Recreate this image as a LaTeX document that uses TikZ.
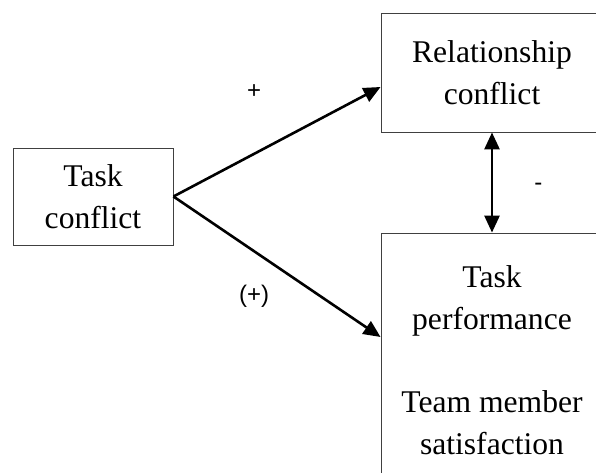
\documentclass[tikz,border=0pt]{standalone}
\usepackage{fontspec}
\setmainfont{Liberation Serif}
\setsansfont{Liberation Sans}
\usetikzlibrary{arrows.meta,positioning}

\begin{document}
\begin{tikzpicture}[x=1pt,y=-1pt,>={Triangle[length=17pt,width=15pt]}]
    \tikzstyle{b}=[rectangle,draw=black!75,line width=0.9pt,align=center,inner sep=0pt,font=\fontsize{31.6}{42}\selectfont]
    \tikzstyle{lbl}=[inner sep=0pt,font=\sffamily\fontsize{24}{28}\selectfont]
    \useasboundingbox (0,0) rectangle (596,473);
    \clip (0,0) rectangle (596,473);
    \node[b,minimum width=160pt,minimum height=97pt] (task) at (93,196.5) {Task\\conflict};
    \node[b,minimum width=222pt,minimum height=119pt] (rel) at (492,72.5) {Relationship\\conflict};
    \node[b,minimum width=222pt,minimum height=254pt] (perf) at (492,360) {Task\\performance\\[41pt]Team member\\satisfaction};
    \draw[->,line width=2.6pt] (task.east) -- node[lbl,pos=0.39,yshift=62pt]{+} ([yshift=-14.5pt]rel.west);
    \draw[->,line width=2.6pt] (task.east) -- node[lbl,pos=0.39,yshift=-45pt]{(+)} ([yshift=23pt]perf.west);
    \draw[<->,line width=2.8pt] (rel.south) -- node[lbl,right=41pt,yshift=-4.5pt]{-} (perf.north);
  \end{tikzpicture}
\end{document}
